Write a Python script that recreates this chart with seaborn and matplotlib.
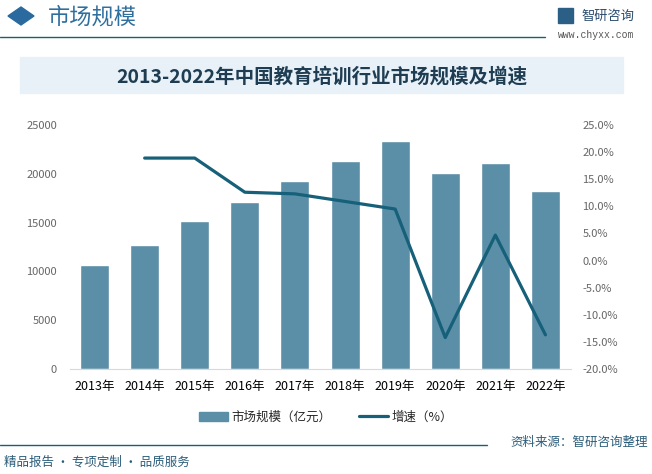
import pandas as pd
import numpy as np
import matplotlib.pyplot as plt
import seaborn as sns
from matplotlib.patches import Rectangle, Polygon
from matplotlib.lines import Line2D

# 数据
years = ['2013年', '2014年', '2015年', '2016年', '2017年', '2018年', '2019年', '2020年', '2021年', '2022年']
scale = [10700, 12700, 15200, 17150, 19250, 21300, 23350, 20100, 21100, 18250]
growth = [np.nan, 18.9, 18.9, 12.6, 12.3, 10.9, 9.5, -14.2, 4.7, -13.7]

bar_color = '#5b8fa8'
line_color = '#17607a'

W, H = 652, 474


def fx(x):
    return x / W


def fy(y):
    return 1 - y / H


sns.set_style('white')
plt.rcParams['font.family'] = ['Noto Sans CJK SC', 'DejaVu Sans']
plt.rcParams['axes.unicode_minus'] = False

fig = plt.figure(figsize=(6.52, 4.74), dpi=100)
ax = fig.add_axes([0.1066, 0.2215, 0.7684, 0.5148])

df = pd.DataFrame({'year': years, 'scale': scale, 'growth': growth})
sns.barplot(data=df, x='year', y='scale', color=bar_color, width=0.58,
            saturation=1, ax=ax)
ax.set_ylim(0, 25000)
ax.set_yticks(range(0, 25001, 5000))
ax.set_xlim(-0.5, 9.5)
ax.set_xlabel('')
ax.set_ylabel('')
for s in ['top', 'right', 'left']:
    ax.spines[s].set_visible(False)
ax.spines['bottom'].set_color('#d9d9d9')
ax.tick_params(axis='y', labelsize=8, colors='#666666', length=0, pad=9)
ax.tick_params(axis='x', labelsize=9, colors='#000000', length=0, pad=8)

ax2 = ax.twinx()
sns.lineplot(x=np.arange(len(years)), y=df['growth'], color=line_color,
             linewidth=2.3, ax=ax2)
ax2.set_ylim(-20, 25)
ax2.set_yticks(np.arange(-20, 25.1, 5))
ax2.set_yticklabels([f'{v:.1f}%' for v in np.arange(-20, 25.1, 5)])
ax2.set_ylabel('')
for s in ax2.spines.values():
    s.set_visible(False)
ax2.tick_params(axis='y', labelsize=8, colors='#666666', length=0, pad=8.5)

# 图例
handles = [Rectangle((0, 0), 1, 1, color=bar_color),
           Line2D([0], [0], color=line_color, linewidth=2.3)]
fig.legend(handles, ['市场规模（亿元）', '增速（%）'], loc='center',
           bbox_to_anchor=(0.5, fy(417)), ncol=2, frameon=False,
           fontsize=9, handlelength=2.3, columnspacing=2.2, handletextpad=0.3)

# 页眉
fig.patches.append(Polygon([[fx(8), fy(16)], [fx(21), fy(7)],
                            [fx(34), fy(16)], [fx(21), fy(25)]],
                           closed=True, transform=fig.transFigure,
                           color='#2a6a9e'))
fig.text(fx(48), fy(17), '市场规模', fontsize=16, color='#2e6f9e',
         va='center', ha='left')
fig.add_artist(Line2D([0, fx(545)], [fy(37)] * 2, color='#1d5f6f',
                      linewidth=1, transform=fig.transFigure))
fig.patches.append(Rectangle((fx(558), fy(23)), fx(15), 15 / H,
                             transform=fig.transFigure, color='#2b5f86'))
fig.text(fx(634), fy(16), '智研咨询', fontsize=9.5, color='#2b4c6f',
         va='center', ha='right')
fig.text(fx(634), fy(35), 'www.chyxx.com', fontsize=7, color='#555555',
         va='center', ha='right', family='Liberation Mono')

# 标题栏
fig.patches.append(Rectangle((fx(20), fy(93)), 603 / W, 36 / H,
                             transform=fig.transFigure, color='#e8f1f7',
                             zorder=0))
fig.text(fx(322), fy(77), '2013-2022年中国教育培训行业市场规模及增速',
         fontsize=14, color='#1f3d52', va='center', ha='center',
         fontweight='bold')

# 页脚
fig.add_artist(Line2D([0, fx(487)], [fy(445)] * 2, color='#1d5f6f',
                      linewidth=1, transform=fig.transFigure))
fig.text(fx(648), fy(442), '资料来源：智研咨询整理', fontsize=9,
         color='#2b5d7a', va='center', ha='right')
fig.text(fx(4), fy(462), '精品报告 · 专项定制 · 品质服务', fontsize=9,
         color='#2b5d7a', va='center', ha='left')

plt.savefig('out.png', dpi=100)
